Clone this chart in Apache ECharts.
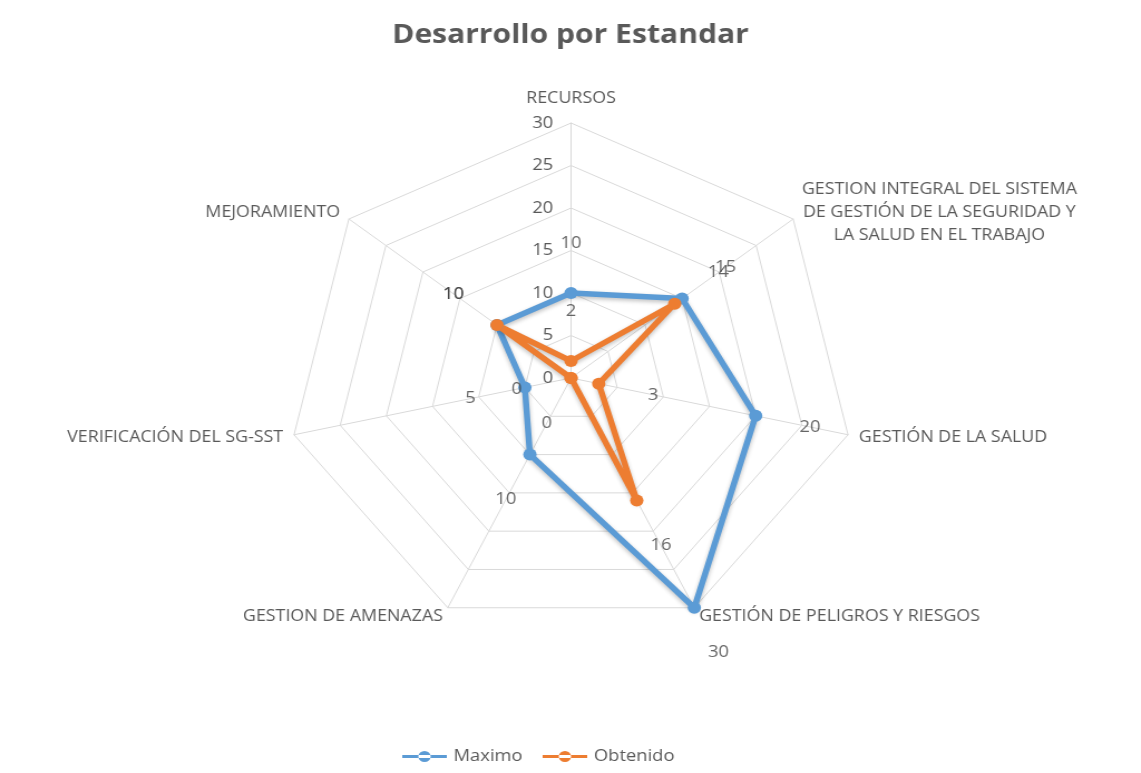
<!DOCTYPE html>
<html>
<head>
<meta charset="utf-8">
<script src="https://cdn.jsdelivr.net/npm/echarts@6/dist/echarts.min.js"></script>
<style>
html,body{margin:0;padding:0;background:#fff;overflow:hidden;}
/* la imagen original esta estirada a lo ancho, se imita con scaleX */
#chart_container{width:1024px;height:773px;transform:scaleX(1.1142);transform-origin:0 0;}
</style>
</head>
<body>
<div id="chart_container"></div>
<script>
// categorias en el orden de las agujas del reloj, empezando arriba
var categorias = [
  'RECURSOS',
  'GESTION INTEGRAL DEL SISTEMA\nDE GESTIÓN DE LA SEGURIDAD Y\nLA SALUD EN EL TRABAJO',
  'GESTIÓN DE LA SALUD',
  'GESTIÓN DE PELIGROS Y RIESGOS',
  'GESTION DE AMENAZAS',
  'VERIFICACIÓN DEL SG-SST',
  'MEJORAMIENTO'
];
var maximo   = [10, 15, 20, 30, 10, 5, 10];
var obtenido = [2, 14, 3, 16, 0, 0, 10];
var escalaMax = 30;
var escalaPaso = 5;

var azul = '#5b9bd5', naranja = '#ed7d31';
var fuente = 'Open Sans';
var tamNombre = 16;
var centro = [512.5, 378], radio = 255;

var chart = echarts.init(document.getElementById('chart_container'));

// el radar de echarts va al reves de las agujas del reloj
var orden = [0, 6, 5, 4, 3, 2, 1];
function reordenar(arr){ return orden.map(function(i){ return arr[i]; }); }

var indicadores = reordenar(categorias).map(function(n){
  return {name: n, min: 0, max: escalaMax};
});

// etiquetas de datos: se desplazan hacia afuera del punto
function etiquetas(valores){
  return valores.map(function(v, i){
    var a = i * 2 * Math.PI / valores.length;
    return {
      value: [v, i],
      label: {offset: [50 * Math.sin(a), -50 * Math.cos(a)]}
    };
  });
}

// nombres: el de arriba se levanta, el largo va centrado linea por linea
function nombreEje(n){
  if (n === categorias[0]) return '{arriba|' + n + '}';
  if (n.indexOf('\n') >= 0) {
    return n.split('\n').map(function(l){ return '{centro|' + l + '}'; }).join('\n');
  }
  return n;
}

var lineaSombra = {shadowBlur: 4, shadowColor: 'rgba(0,0,0,0.25)', shadowOffsetY: 2};

option = {
  animation: false,
  title: {
    text: 'Desarrollo por Estandar',
    left: 'center',
    top: 17,
    textStyle: {fontFamily: fuente, fontSize: 27, fontWeight: 'bold', color: '#595959'}
  },
  legend: {
    data: ['Maximo', 'Obtenido'],
    bottom: 3,
    left: 356,
    itemWidth: 42,
    itemHeight: 11,
    itemGap: 18,
    icon: 'path://M0,4h40v3h-40z M14.5,5.5a5.5,5.5 0 1,0 11,0a5.5,5.5 0 1,0 -11,0z',
    textStyle: {fontFamily: fuente, fontSize: 16.5, color: '#595959'}
  },
  radar: {
    center: centro,
    radius: radio,
    startAngle: 90,
    splitNumber: escalaMax / escalaPaso,
    shape: 'polygon',
    indicator: indicadores,
    axisName: {
      color: '#595959', fontFamily: fuente, fontSize: tamNombre,
      verticalAlign: 'middle',
      formatter: nombreEje,
      rich: {
        arriba: {color: '#595959', fontFamily: fuente, fontSize: tamNombre, padding: [0, 0, 30, 0]},
        centro: {color: '#595959', fontFamily: fuente, fontSize: tamNombre, align: 'center', lineHeight: 23}
      }
    },
    nameGap: 10,
    splitLine: {lineStyle: {color: '#d9d9d9', width: 1}},
    splitArea: {show: false},
    axisLine: {lineStyle: {color: '#d9d9d9'}},
    axisTick: {show: false},
    axisLabel: {show: false}
  },
  polar: {center: centro, radius: radio},
  angleAxis: {type: 'value', min: 0, max: categorias.length, startAngle: 90, clockwise: true, show: false},
  radiusAxis: {
    type: 'value', min: 0, max: escalaMax, interval: escalaPaso,
    axisLine: {show: false}, axisTick: {show: false}, splitLine: {show: false},
    axisLabel: {margin: 16, color: '#595959', fontFamily: fuente, fontSize: 16.5}
  },
  series: [
    {
      name: 'Maximo',
      type: 'radar',
      symbol: 'circle',
      symbolSize: 12,
      lineStyle: Object.assign({color: azul, width: 5.5}, lineaSombra),
      itemStyle: {color: azul},
      data: [{name: 'Maximo', value: reordenar(maximo)}]
    },
    {
      name: 'Obtenido',
      type: 'radar',
      symbol: 'circle',
      symbolSize: 12,
      lineStyle: Object.assign({color: naranja, width: 5.5}, lineaSombra),
      itemStyle: {color: naranja},
      data: [{name: 'Obtenido', value: reordenar(obtenido)}]
    },
    {
      name: 'etqMaximo',
      type: 'scatter',
      coordinateSystem: 'polar',
      symbolSize: 0,
      silent: true,
      label: {show: true, position: 'inside', formatter: function(p){ return p.value[0]; },
              color: '#404040', fontFamily: fuente, fontSize: 16.5},
      data: etiquetas(maximo)
    },
    {
      name: 'etqObtenido',
      type: 'scatter',
      coordinateSystem: 'polar',
      symbolSize: 0,
      silent: true,
      label: {show: true, position: 'inside', formatter: function(p){ return p.value[0]; },
              color: '#404040', fontFamily: fuente, fontSize: 16.5},
      data: etiquetas(obtenido)
    }
  ]
};
chart.setOption(option);
</script>
</body>
</html>
